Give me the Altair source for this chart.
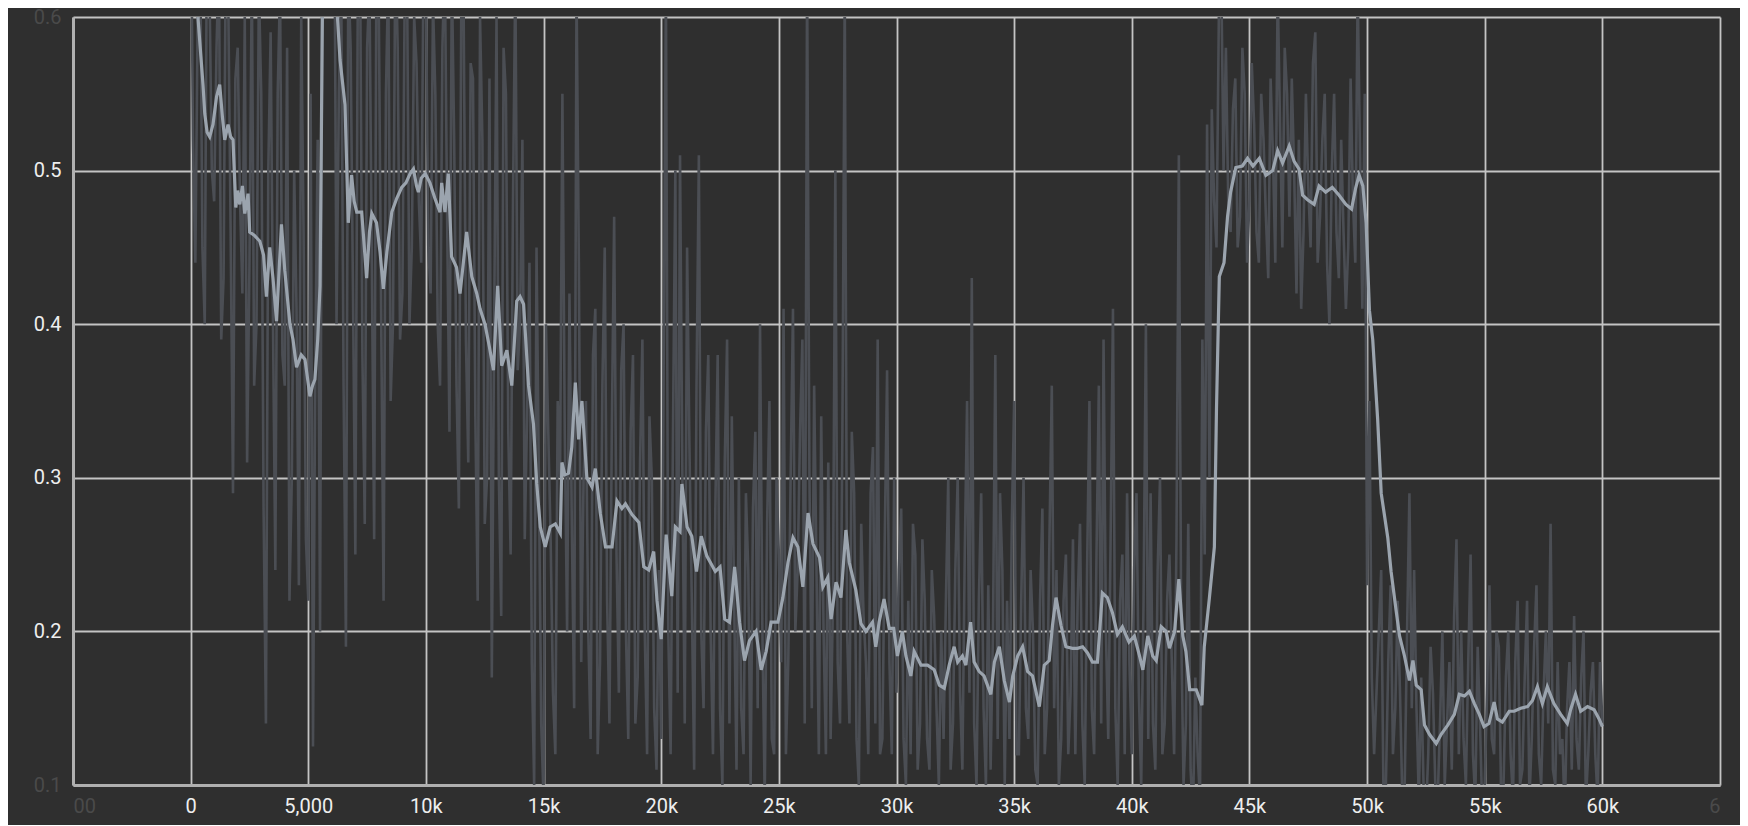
import altair as alt
import pandas as pd

# ---------------- data ----------------
# raw scalar, logged every 100 steps (even hundreds and odd hundreds kept separately)
raw_steps_a = list(range(0, 60001, 200))
raw_values_a = [
    0.70, 0.44, 0.66, 0.40, 0.62, 0.48, 0.64, 0.43, 0.61, 0.29,
    0.58, 0.42, 0.31, 0.63, 0.40, 0.55, 0.14, 0.59, 0.24, 0.62,
    0.36, 0.22, 0.50, 0.23, 0.46, 0.22, 0.125, 0.52, 0.66, 0.90,
    0.85, 0.40, 0.62, 0.19, 0.58, 0.25, 0.64, 0.27, 0.62, 0.26,
    0.60, 0.22, 0.63, 0.40, 0.58, 0.42, 0.62, 0.45, 0.57, 0.44,
    0.62, 0.42, 0.55, 0.36, 0.64, 0.33, 0.52, 0.28, 0.61, 0.31,
    0.56, 0.22, 0.52, 0.30, 0.17, 0.60, 0.21, 0.55, 0.25, 0.63,
    0.40, 0.26, 0.44, 0.10, 0.30, 0.09, 0.33, 0.16, 0.35, 0.55,
    0.20, 0.27, 0.62, 0.18, 0.35, 0.13, 0.41, 0.18, 0.45, 0.14,
    0.47, 0.16, 0.40, 0.13, 0.38, 0.17, 0.39, 0.12, 0.30, 0.11,
    0.13, 0.62, 0.12, 0.50, 0.51, 0.14, 0.32, 0.11, 0.51, 0.15,
    0.38, 0.12, 0.38, 0.10, 0.39, 0.34, 0.11, 0.15, 0.29, 0.10,
    0.33, 0.40, 0.09, 0.35, 0.12, 0.25, 0.41, 0.18, 0.41, 0.24,
    0.39, 0.63, 0.15, 0.24, 0.34, 0.12, 0.13, 0.50, 0.14, 0.62,
    0.14, 0.29, 0.10, 0.21, 0.12, 0.32, 0.39, 0.13, 0.37, 0.12,
    0.16, 0.28, 0.10, 0.12, 0.25, 0.14, 0.22, 0.11, 0.21, 0.10,
    0.13, 0.30, 0.14, 0.30, 0.11, 0.35, 0.43, 0.10, 0.29, 0.10,
    0.11, 0.38, 0.29, 0.10, 0.13, 0.35, 0.12, 0.30, 0.13, 0.20,
    0.10, 0.28, 0.15, 0.36, 0.24, 0.13, 0.25, 0.16, 0.12, 0.27,
    0.10, 0.35, 0.12, 0.36, 0.39, 0.13, 0.41, 0.10, 0.25, 0.29,
    0.12, 0.29, 0.10, 0.40, 0.29, 0.11, 0.30, 0.14, 0.25, 0.12,
    0.51, 0.10, 0.27, 0.08, 0.12, 0.39, 0.53, 0.54, 0.45, 0.63,
    0.58, 0.46, 0.56, 0.47, 0.55, 0.48, 0.53, 0.44, 0.52, 0.43,
    0.51, 0.62, 0.45, 0.55, 0.56, 0.42, 0.41, 0.55, 0.45, 0.59,
    0.47, 0.55, 0.40, 0.55, 0.43, 0.46, 0.45, 0.48, 0.62, 0.41,
    0.23, 0.17, 0.16, 0.24, 0.10, 0.23, 0.15, 0.16, 0.10, 0.29,
    0.24, 0.09, 0.10, 0.12, 0.16, 0.09, 0.20, 0.14, 0.11, 0.26,
    0.20, 0.10, 0.25, 0.09, 0.14, 0.10, 0.23, 0.12, 0.19, 0.10,
    0.20, 0.09, 0.22, 0.11, 0.22, 0.13, 0.23, 0.10, 0.20, 0.27,
    0.10, 0.12, 0.08, 0.18, 0.21, 0.11, 0.20, 0.12, 0.18, 0.09, 0.14,
]
raw_steps_b = list(range(100, 60000, 200))
raw_values_b = [
    0.52, 0.60, 0.45, 0.68, 0.50, 0.58, 0.39, 0.66, 0.46, 0.56,
    0.48, 0.60, 0.44, 0.36, 0.62, 0.28, 0.50, 0.40, 0.55, 0.38,
    0.58, 0.30, 0.41, 0.60, 0.26, 0.55, 0.38, 0.20, 0.75, 0.95,
    0.70, 0.55, 0.36, 0.63, 0.42, 0.60, 0.38, 0.58, 0.44, 0.65,
    0.40, 0.55, 0.35, 0.65, 0.39, 0.62, 0.40, 0.60, 0.48, 0.64,
    0.45, 0.61, 0.40, 0.58, 0.47, 0.63, 0.36, 0.60, 0.39, 0.57,
    0.34, 0.60, 0.27, 0.56, 0.40, 0.30, 0.58, 0.33, 0.48, 0.37,
    0.52, 0.34, 0.18, 0.45, 0.14, 0.40, 0.26, 0.12, 0.30, 0.33,
    0.42, 0.15, 0.44, 0.30, 0.20, 0.38, 0.12, 0.36, 0.22, 0.33,
    0.25, 0.37, 0.20, 0.33, 0.14, 0.31, 0.20, 0.34, 0.15, 0.24,
    0.36, 0.20, 0.33, 0.16, 0.30, 0.45, 0.22, 0.36, 0.20, 0.33,
    0.20, 0.28, 0.15, 0.31, 0.14, 0.22, 0.30, 0.12, 0.24, 0.28,
    0.15, 0.20, 0.27, 0.13, 0.30, 0.18, 0.12, 0.30, 0.20, 0.33,
    0.14, 0.30, 0.36, 0.12, 0.20, 0.31, 0.22, 0.18, 0.33, 0.20,
    0.33, 0.13, 0.27, 0.18, 0.29, 0.14, 0.12, 0.26, 0.18, 0.30,
    0.24, 0.13, 0.22, 0.27, 0.11, 0.26, 0.13, 0.24, 0.15, 0.20,
    0.22, 0.11, 0.24, 0.16, 0.25, 0.16, 0.14, 0.22, 0.15, 0.23,
    0.20, 0.13, 0.24, 0.22, 0.27, 0.12, 0.22, 0.15, 0.24, 0.11,
    0.22, 0.12, 0.26, 0.15, 0.10, 0.22, 0.12, 0.26, 0.22, 0.14,
    0.24, 0.15, 0.25, 0.14, 0.20, 0.26, 0.15, 0.22, 0.12, 0.18,
    0.24, 0.16, 0.22, 0.13, 0.14, 0.24, 0.12, 0.22, 0.18, 0.26,
    0.20, 0.14, 0.11, 0.17, 0.09, 0.25, 0.30, 0.48, 0.60, 0.50,
    0.48, 0.54, 0.45, 0.58, 0.44, 0.57, 0.46, 0.55, 0.47, 0.56,
    0.44, 0.53, 0.58, 0.47, 0.50, 0.52, 0.46, 0.49, 0.57, 0.44,
    0.52, 0.44, 0.50, 0.46, 0.52, 0.41, 0.56, 0.44, 0.51, 0.55,
    0.35, 0.12, 0.20, 0.09, 0.18, 0.12, 0.22, 0.09, 0.20, 0.15,
    0.15, 0.17, 0.08, 0.19, 0.10, 0.14, 0.10, 0.18, 0.21, 0.12,
    0.13, 0.18, 0.12, 0.19, 0.08, 0.16, 0.13, 0.20, 0.09, 0.17,
    0.12, 0.18, 0.10, 0.17, 0.09, 0.19, 0.12, 0.16, 0.14, 0.11,
    0.18, 0.13, 0.15, 0.11, 0.13, 0.17, 0.09, 0.16, 0.12, 0.18,
]

smooth_steps = [
    0, 150, 310, 525, 600, 700, 810, 950, 1100, 1235, 1350, 1450, 1590, 1700, 1800,
    1920, 2000, 2090, 2200, 2300, 2440, 2510, 2700, 2940, 3100, 3220, 3360, 3500,
    3650, 3860, 4000, 4220, 4350, 4500, 4700, 4860, 5070, 5180, 5280, 5400, 5500,
    5610, 5800, 6000, 6200, 6350, 6560, 6630, 6700, 6840, 6950, 7060, 7270, 7480,
    7600, 7700, 7900, 8050, 8190, 8340, 8550, 8760, 8970, 9150, 9330, 9470, 9600,
    9680, 9800, 9970, 10170, 10380, 10600, 10670, 10810, 10950, 11090, 11300, 11450,
    11730, 11950, 12160, 12300, 12510, 12700, 12870, 13050, 13220, 13440, 13650,
    13860, 14000, 14150, 14360, 14570, 14710, 14860, 15070, 15280, 15500, 15710,
    15780, 15900, 16060, 16200, 16350, 16490, 16630, 16840, 17060, 17200, 17410,
    17630, 17910, 18120, 18330, 18480, 18760, 19050, 19260, 19470, 19680, 19820,
    20000, 20210, 20450, 20600, 20800, 20880, 21100, 21300, 21500, 21700, 21940,
    22300, 22500, 22700, 22900, 23120, 23330, 23540, 23750, 24030, 24250, 24460,
    24670, 24960, 25170, 25390, 25600, 25810, 26020, 26240, 26450, 26730, 26870,
    27080, 27220, 27430, 27640, 27850, 27990, 28270, 28490, 28700, 28980, 29120,
    29260, 29470, 29690, 29880, 30040, 30250, 30400, 30610, 30750, 31040, 31320,
    31600, 31820, 32030, 32240, 32450, 32600, 32800, 32950, 33150, 33300, 33510,
    33720, 34010, 34160, 34370, 34580, 34800, 34940, 35150, 35360, 35570, 35780,
    36070, 36280, 36490, 36630, 36780, 36990, 37200, 37480, 37690, 37910, 38120,
    38330, 38540, 38750, 38960, 39180, 39390, 39600, 39880, 40110, 40330, 40470,
    40680, 40890, 41040, 41250, 41460, 41600, 41820, 42000, 42170, 42300, 42460,
    42740, 42980, 43080, 43300, 43510, 43600, 43720, 43920, 44070, 44200, 44420,
    44700, 44920, 45150, 45420, 45700, 45990, 46200, 46410, 46690, 46900, 47110,
    47260, 47470, 47750, 47960, 48240, 48520, 48810, 49100, 49340, 49520, 49660,
    49820, 49960, 50100, 50240, 50450, 50600, 50880, 51020, 51240, 51380, 51590,
    51800, 51950, 52090, 52300, 52440, 52650, 52940, 53150, 53430, 53710, 53920,
    54140, 54350, 54560, 54770, 54970, 55180, 55400, 55540, 55750, 56040, 56250,
    56530, 56820, 57030, 57240, 57450, 57660, 57940, 58230, 58510, 58650, 58860,
    59080, 59370, 59650, 59860, 60000,
]
smooth_values = [
    0.66, 0.63, 0.60, 0.556, 0.537, 0.525, 0.522, 0.53, 0.548, 0.556, 0.535, 0.52, 0.53, 0.522, 0.52,
    0.476, 0.487, 0.478, 0.49, 0.472, 0.485, 0.46, 0.458, 0.454, 0.445, 0.418, 0.45, 0.43,
    0.402, 0.465, 0.435, 0.40, 0.39, 0.372, 0.38, 0.377, 0.353, 0.36, 0.364, 0.39, 0.425,
    0.62, 0.78, 0.76, 0.61, 0.572, 0.543, 0.505, 0.466, 0.497, 0.48, 0.473, 0.473, 0.43,
    0.46, 0.472, 0.466, 0.447, 0.423, 0.447, 0.473, 0.482, 0.489, 0.492, 0.498, 0.501, 0.49,
    0.486, 0.495, 0.498, 0.492, 0.482, 0.473, 0.492, 0.473, 0.498, 0.444, 0.437, 0.42,
    0.46, 0.431, 0.42, 0.41, 0.40, 0.385, 0.37, 0.425, 0.373, 0.383, 0.36,
    0.415, 0.418, 0.413, 0.36, 0.335, 0.296, 0.268, 0.255, 0.268, 0.27, 0.264,
    0.31, 0.302, 0.303, 0.32, 0.362, 0.325, 0.35, 0.30, 0.294, 0.306, 0.277,
    0.255, 0.255, 0.285, 0.28, 0.283, 0.276, 0.271, 0.242, 0.240, 0.252, 0.22,
    0.195, 0.263, 0.223, 0.268, 0.265, 0.296, 0.268, 0.262, 0.239, 0.262, 0.249,
    0.239, 0.242, 0.208, 0.206, 0.242, 0.206, 0.181, 0.194, 0.2, 0.175, 0.187,
    0.206, 0.206, 0.222, 0.245, 0.261, 0.255, 0.229, 0.277, 0.257, 0.248, 0.229,
    0.235, 0.208, 0.232, 0.222, 0.266, 0.245, 0.227, 0.205, 0.2, 0.206, 0.19,
    0.206, 0.221, 0.202, 0.202, 0.184, 0.2, 0.184, 0.171, 0.187, 0.178, 0.178,
    0.175, 0.165, 0.163, 0.178, 0.19, 0.18, 0.184, 0.178, 0.206, 0.18, 0.174,
    0.171, 0.159, 0.18, 0.19, 0.168, 0.154, 0.171, 0.184, 0.19, 0.174, 0.171,
    0.151, 0.178, 0.181, 0.204, 0.222, 0.204, 0.19, 0.189, 0.189, 0.19, 0.186,
    0.18, 0.18, 0.225, 0.222, 0.212, 0.198, 0.203, 0.193, 0.197, 0.184, 0.175,
    0.197, 0.184, 0.181, 0.203, 0.2, 0.189, 0.2, 0.234, 0.197, 0.187, 0.162,
    0.162, 0.152, 0.19, 0.222, 0.255, 0.345, 0.431, 0.44, 0.47, 0.486, 0.502,
    0.503, 0.508, 0.503, 0.508, 0.497, 0.5, 0.513, 0.505, 0.516, 0.506, 0.501,
    0.484, 0.481, 0.478, 0.49, 0.486, 0.489, 0.484, 0.478, 0.475, 0.489, 0.497,
    0.49, 0.466, 0.409, 0.39, 0.338, 0.29, 0.261, 0.239, 0.213, 0.197, 0.184,
    0.168, 0.181, 0.165, 0.162, 0.139, 0.133, 0.127, 0.133, 0.139, 0.146, 0.159,
    0.158, 0.161, 0.153, 0.146, 0.138, 0.14, 0.154, 0.143, 0.141, 0.148, 0.148,
    0.15, 0.151, 0.155, 0.164, 0.153, 0.164, 0.153, 0.146, 0.14, 0.149, 0.159,
    0.148, 0.151, 0.149, 0.143, 0.138,
]

x_ticks = [-5000, 0, 5000, 10000, 15000, 20000, 25000, 30000, 35000,
           40000, 45000, 50000, 55000, 60000, 65000]
y_ticks = [0.1, 0.2, 0.3, 0.4, 0.5, 0.6]

raw_df = pd.DataFrame({
    "step": raw_steps_a + raw_steps_b,
    "value": raw_values_a + raw_values_b,
}).sort_values("step").reset_index(drop=True)
smooth_df = pd.DataFrame({"step": smooth_steps, "value": smooth_values})

# ---------------- style ----------------
BG = "#2f2f2f"
GRID = "#c4c4c4"
LABEL = "#eeeeee"
FADED = "#4a4a4a"

x_scale = alt.Scale(domain=[-5000, 65000], nice=False, zero=False)
y_scale = alt.Scale(domain=[0.1, 0.6], nice=False, zero=False)

x_axis = alt.Axis(
    title=None, values=x_ticks, grid=True, gridColor=GRID, gridWidth=1.8,
    domain=True, domainColor="#b0b0b0", domainWidth=3, ticks=False, tickSize=0,
    labelPadding=11, labelFont="Roboto", labelFontSize=20,
    labelColor={"condition": {"test": "datum.value < 0 || datum.value > 60000",
                              "value": FADED}, "value": LABEL},
    labelAlign={"condition": [
        {"test": "datum.value < 0", "value": "left"},
        {"test": "datum.value > 60000", "value": "right"}],
        "value": "center"},
    labelExpr=("datum.value < 0 ? '00' : datum.value > 60000 ? '6' : "
               "datum.value == 0 ? '0' : (abs(datum.value) < 10000 ? "
               "format(datum.value, ',') : format(datum.value / 1000, 'd') + 'k')"),
    labelOverlap=False,
)
y_axis = alt.Axis(
    title=None, values=y_ticks, grid=True, gridColor=GRID, gridWidth=1.8,
    domain=True, domainColor="#b0b0b0", domainWidth=3, ticks=False, tickSize=0,
    labelPadding=12, labelFont="Roboto", labelFontSize=20, format=".1f",
    labelColor={"condition": {"test": "datum.value < 0.15 || datum.value > 0.55",
                              "value": FADED}, "value": LABEL},
    labelOverlap=False,
)

base = alt.Chart().encode(
    x=alt.X("step:Q", scale=x_scale, axis=x_axis),
    y=alt.Y("value:Q", scale=y_scale, axis=y_axis),
)

raw_line = base.mark_line(
    color="#4b4e54", strokeWidth=2.6, clip=True, interpolate="linear"
).properties(data=raw_df)

smooth_line = base.mark_line(
    color="#9ba4ae", strokeWidth=3.2, clip=True, interpolate="linear"
).properties(data=smooth_df)

chart = alt.layer(raw_line, smooth_line).properties(
    width=1647, height=768,
    autosize=alt.AutoSizeParams(type="none"),
    padding={"left": 65, "top": 9, "right": 20, "bottom": 40},
    background=BG,
).configure_view(strokeWidth=0)

chart.save("out.html", embed_options={"renderer": "svg", "actions": False})
